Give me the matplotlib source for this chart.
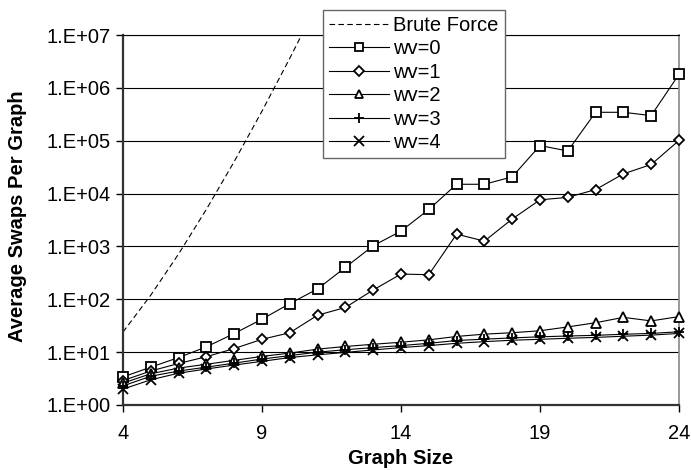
import numpy as np
import matplotlib
matplotlib.use("Agg")
import matplotlib.pyplot as plt
from matplotlib.ticker import FixedLocator, NullLocator

plt.rcParams['font.family'] = ['Liberation Sans', 'DejaVu Sans']

# --- Datos ---
sizes = list(range(4, 25))
brute_sizes = [4, 5, 6, 7, 8, 9, 10, 11]
brute_force = [24, 120, 720, 5040, 40320, 362880, 3628800, 39916800]

wv0 = [3.4, 5.2, 7.9, 12.6, 22.5, 42, 83, 157, 402, 1030, 1950, 5000,
       15000, 15000, 20700, 81000, 64000, 345000, 345000, 299000, 1.8e6]
wv1 = [2.9, 4.4, 6.1, 8.2, 11.7, 17.5, 23.3, 50, 70, 150, 300, 292,
       1710, 1260, 3300, 7600, 8500, 11900, 23600, 35500, 101000]
wv2 = [2.6, 3.9, 5.0, 5.9, 7.0, 8.3, 9.6, 11.4, 12.8, 14.1, 15.4, 17.1,
       19.8, 21.9, 23.3, 25.4, 30, 36, 45.5, 39, 47]
wv3 = [2.3, 3.5, 4.4, 5.2, 6.2, 7.4, 8.6, 10.0, 11.1, 12.2, 13.3, 14.7,
       16.6, 17.6, 18.6, 19.5, 20.2, 20.8, 21.8, 22.6, 24.3]
wv4 = [2.0, 3.0, 4.0, 4.8, 5.7, 6.7, 7.9, 8.9, 9.9, 11.0, 12.2, 13.3,
       14.7, 15.8, 16.8, 17.5, 18.3, 19.0, 20.0, 21.0, 22.6]

series = [("wv=0", wv0, 's'), ("wv=1", wv1, 'D'), ("wv=2", wv2, '^'),
          ("wv=3", wv3, '+'), ("wv=4", wv4, 'x')]

FS = 14.5

fig = plt.figure(figsize=(6.91, 4.70), dpi=100)
ax = fig.add_axes([0.178, 0.1383, 0.8046, 0.7872])

ax.plot(brute_sizes, brute_force, color='black', lw=0.8,
        linestyle=(0, (5, 3)), label='Brute Force')

for name, vals, mk in series:
    ms = 6.5
    if mk == 'D':
        ms = 5.5
    if mk in ('+', 'x'):
        ms = 7.5
    ax.plot(sizes, vals, color='black', lw=0.8, marker=mk, markersize=ms,
            markerfacecolor='white', markeredgecolor='black',
            markeredgewidth=1.3, label=name, clip_on=False, zorder=3)

ax.set_yscale('log')
ax.set_ylim(1, 1e7)
ax.set_xlim(4, 24)

ax.yaxis.set_major_locator(FixedLocator([10.0 ** k for k in range(0, 8)]))
ax.yaxis.set_minor_locator(NullLocator())
ax.set_yticklabels(['1.E+%02d' % k for k in range(0, 8)])
ax.set_xticks([4, 9, 14, 19, 24])
ax.set_xticklabels(['4', '9', '14', '19', '24'])

ax.tick_params(axis='both', direction='out', length=5, width=1,
               labelsize=FS, colors='black')
ax.tick_params(axis='x', pad=9)
ax.tick_params(axis='y', pad=4)

ax.grid(True, axis='y', color='black', lw=0.8)
ax.set_axisbelow(True)

ax.spines['left'].set_linewidth(1.6)
ax.spines['left'].set_color('#333333')
ax.spines['bottom'].set_linewidth(1.6)
ax.spines['bottom'].set_color('#333333')
ax.spines['right'].set_color('#888888')
ax.spines['right'].set_linewidth(1.2)
ax.spines['top'].set_color('black')
ax.spines['top'].set_linewidth(0.8)

ax.set_xlabel('Graph Size', fontsize=FS, fontweight='bold')
ax.set_ylabel('Average Swaps Per Graph', fontsize=FS, fontweight='bold')
ax.xaxis.set_label_coords(401 / 691, 1 - 449 / 470, transform=fig.transFigure)
ax.yaxis.set_label_coords(27 / 691, 1 - 216 / 470, transform=fig.transFigure)

leg = fig.legend(loc='upper left', bbox_to_anchor=(323 / 691, 1 - 10 / 470),
                 fontsize=FS, frameon=True, fancybox=False, handlelength=3.0,
                 handletextpad=0.2, labelspacing=0.22, borderpad=0.3,
                 borderaxespad=0, markerscale=0.9)
leg.get_frame().set_edgecolor('#666666')
leg.get_frame().set_linewidth(1.0)
leg.get_frame().set_alpha(1)

fig.savefig('out.png', dpi=100)
